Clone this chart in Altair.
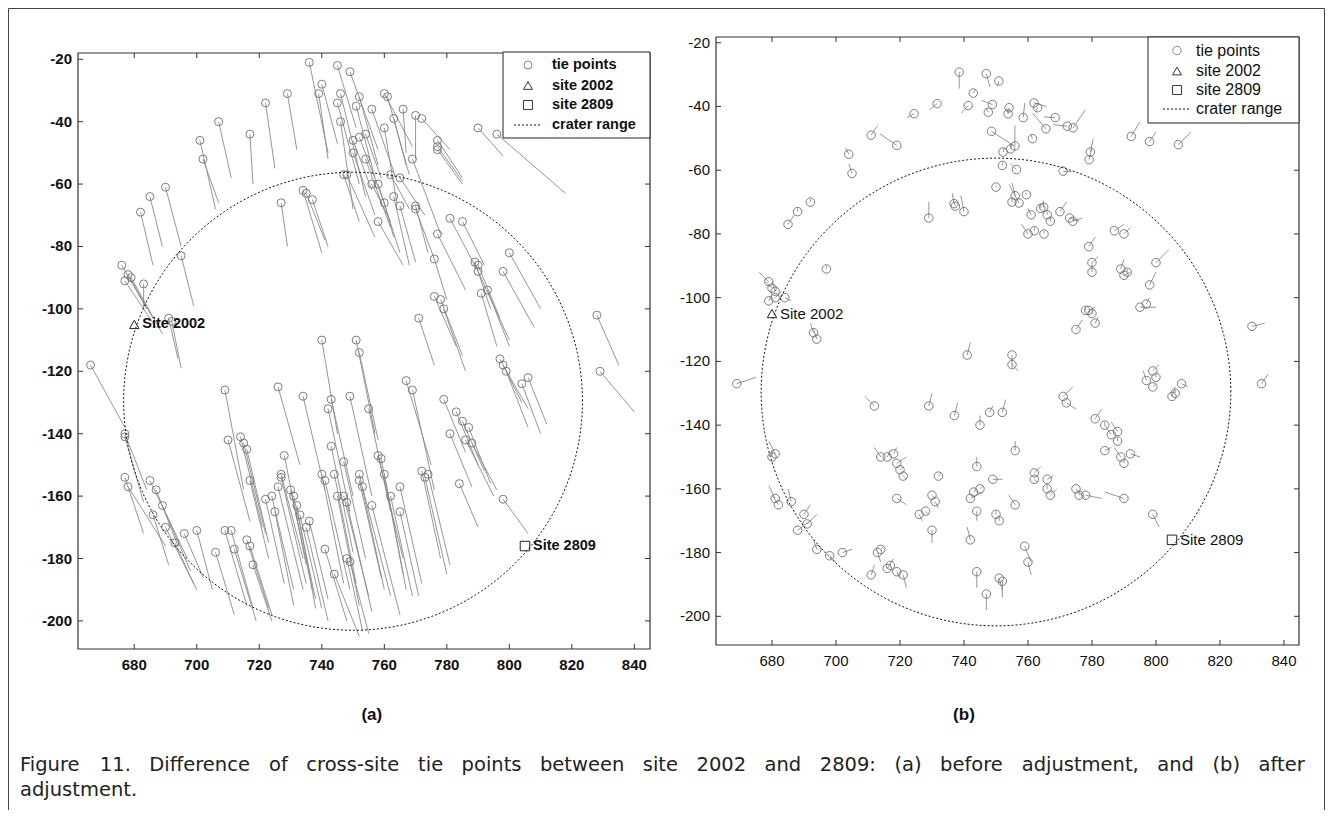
import math
import altair as alt
import pandas as pd

# ---------------- data ----------------
# panel (a): tie points (circle) and the end of their difference vectors
A_PTS = [
    (701,-46,706,-68),(702,-52,707,-66),(707,-40,711,-58),(717,-44,718,-60),(722,-34,725,-55),
    (729,-31,732,-49),(736,-21,742,-50),(740,-28,745,-47),(739,-31,742,-52),(745,-22,751,-42),
    (749,-24,758,-49),(746,-31,754,-64),(752,-32,758,-54),(745,-34,752,-60),(751,-35,757,-58),
    (746,-40,750,-68),(760,-31,769,-48),(761,-32,768,-57),(756,-36,763,-56),(766,-36,767,-50),
    (763,-39,767,-54),(760,-42,764,-66),(770,-38,770,-52),(772,-39,781,-49),(769,-52,778,-76),
    (777,-46,785,-58),(777,-48,785,-59),(777,-49,785,-60),(790,-42,798,-51),(796,-44,818,-63),
    (750,-46,756,-62),(752,-45,760,-66),(754,-44,759,-58),(750,-50,757,-70),(754,-52,762,-74),
    (748,-57,757,-77),(747,-57,752,-72),(758,-60,765,-82),(734,-62,740,-82),(735,-63,741,-78),
    (737,-65,742,-80),(727,-66,729,-80),(763,-64,768,-86),(765,-67,770,-85),(770,-67,774,-82),
    (770,-68,776,-84),(760,-66,763,-77),(756,-60,762,-72),(762,-57,768,-68),(765,-58,773,-70),
    (758,-72,766,-86),(781,-71,790,-88),(785,-72,792,-86),(777,-76,786,-94),(776,-84,780,-97),
    (789,-85,794,-100),(790,-86,797,-103),(790,-88,800,-110),(798,-88,808,-106),(800,-82,810,-100),
    (776,-96,783,-112),(778,-97,785,-115),(779,-100,786,-120),(771,-103,776,-118),(791,-95,796,-112),
    (793,-94,800,-112),(828,-102,835,-118),(829,-120,840,-133),(797,-116,804,-130),(798,-118,806,-132),
    (799,-120,806,-138),(804,-124,810,-140),(806,-122,812,-137),(779,-129,786,-146),(783,-133,790,-150),
    (785,-136,792,-152),(787,-138,794,-156),(786,-142,795,-160),(788,-143,796,-158),(781,-140,788,-157),
    (784,-156,790,-170),(798,-161,806,-172),
    (676,-86,684,-100),(678,-89,686,-103),(677,-91,687,-106),(679,-90,689,-108),(683,-92,683,-100),
    (695,-83,699,-99),(691,-103,694,-116),(692,-104,695,-119),(682,-69,686,-86),(685,-64,689,-80),
    (690,-61,695,-80),
    (666,-118,677,-138),(677,-140,684,-158),(677,-141,683,-162),(677,-154,683,-172),(678,-157,690,-176),
    (685,-155,697,-180),(687,-158,694,-176),(686,-166,691,-182),(689,-163,698,-184),(690,-170,700,-190),
    (693,-175,699,-188),(696,-172,702,-186),(700,-171,705,-190),(706,-178,712,-198),
    (709,-126,715,-158),(710,-142,717,-168),(709,-171,716,-195),(711,-171,718,-196),(712,-177,719,-200),
    (714,-141,721,-170),(715,-143,722,-172),(716,-145,723,-175),(717,-155,723,-180),(716,-174,723,-196),
    (717,-176,724,-198),(718,-182,724,-200),(722,-161,728,-188),(724,-160,731,-190),(725,-165,731,-195),
    (726,-157,734,-190),(727,-154,735,-188),(728,-147,735,-182),(726,-125,733,-150),(727,-153,734,-180),
    (730,-158,737,-190),(731,-160,738,-193),(732,-163,738,-196),(733,-166,740,-196),(734,-128,741,-158),
    (735,-170,742,-200),(736,-168,742,-193),(740,-110,745,-140),(740,-153,747,-188),(741,-155,749,-190),
    (741,-177,748,-200),(742,-132,749,-165),(743,-129,750,-160),(743,-144,750,-178),(744,-153,751,-188),
    (745,-160,752,-195),(744,-185,752,-205),(747,-149,754,-180),(747,-160,755,-192),(748,-162,756,-197),
    (748,-180,753,-203),(749,-181,755,-204),(749,-128,756,-160),(751,-110,757,-140),(752,-114,758,-142),
    (752,-153,760,-190),(752,-155,759,-186),(753,-157,762,-192),(755,-132,762,-165),(756,-163,765,-198),
    (758,-147,766,-180),(759,-148,766,-185),(760,-153,767,-190),(762,-160,769,-192),(765,-157,772,-188),
    (765,-165,771,-192),(767,-123,775,-150),(769,-126,776,-158),(772,-152,778,-180),(773,-154,780,-185),
    (774,-153,781,-182),
]
A_X = [p[0] for p in A_PTS]
A_Y = [p[1] for p in A_PTS]
A_EX = [p[2] for p in A_PTS]
A_EY = [p[3] for p in A_PTS]

# panel (b)
B_PTS = [
    (738.5,-29.2,738.5,-34.4),(747.0,-29.7,748.1,-33.9),(750.9,-32.0,750.5,-33.6),(742.9,-35.8,743.5,-34.8),
    (731.6,-39.1,729.3,-41.0),(724.4,-42.3,722.1,-43.5),(741.3,-39.7,739.2,-42.1),(748.9,-39.4,745.5,-38.1),
    (747.6,-41.8,746.8,-40.5),(754.1,-40.4,754.0,-42.0),(753.8,-42.3,753.5,-41.0),(758.5,-43.5,759.0,-38.9),
    (761.9,-38.9,765.8,-40.0),(763.0,-40.4,762.5,-41.5),(768.5,-43.5,765.0,-43.3),(765.6,-47.0,761.4,-42.1),
    (772.3,-46.2,767.9,-45.7),(774.1,-46.7,778.0,-41.0),(748.6,-47.8,755.4,-52.2),(752.2,-54.3,752.6,-53.0),
    (755.9,-52.4,755.9,-46.0),(754.6,-53.3,754.8,-52.0),(761.4,-50.1,761.0,-49.0),(779.5,-54.3,780.4,-50.1),
    (779.1,-56.7,780.0,-53.0),(792.3,-49.4,794.9,-44.9),(719.0,-52.2,713.7,-48.6),(752.0,-58.5,752.0,-57.5),
    (756.4,-59.8,754.5,-58.0),(771.0,-60.3,773.7,-60.5),(750.0,-65.3,750.3,-64.8),(757.2,-70.3,754.1,-64.5),
    (759.5,-67.7,759.2,-67.0),(736.9,-70.5,736.3,-67.2),(737.3,-71.3,737.0,-70.0),(764.9,-71.6,764.8,-69.5),
    (807,-52,811,-48),(798,-51,800,-48),(704,-55,703,-53),(705,-61,704,-58),(711,-49,713,-46),
    (685,-77,687,-74),(688,-73,688,-72),(692,-70,692,-69),(697,-91,697,-90),(729,-75,729,-70),(740,-73,739,-68),
    (679,-95,676,-92),(680,-97,678,-95),(681,-98,680,-95),(681,-100,683,-98),(679,-101,680,-99),(684,-100,686,-101),
    (693,-111,692,-108),(694,-113,693,-110),(669,-127,675,-125),(681,-149,679,-145),(680,-150,680,-148),
    (681,-163,679,-159),(682,-165,680,-162),(686,-164,685,-160),(688,-173,692,-170),(690,-168,692,-165),
    (691,-171,694,-168),(694,-179,693,-176),(698,-181,700,-183),(702,-180,705,-179),(711,-187,712,-184),
    (713,-180,714,-183),(714,-179,715,-178),(712,-134,709,-131),(714,-150,712,-147),(716,-150,717,-148),
    (718,-149,719,-147),(719,-152,722,-150),(720,-154,721,-153),(721,-156,722,-157),(719,-163,722,-165),
    (716,-185,718,-182),(717,-184,717,-183),(719,-186,720,-188),(721,-187,722,-191),(726,-168,727,-170),
    (728,-167,729,-168),(730,-162,731,-163),(731,-164,732,-166),(732,-156,733,-155),(730,-173,730,-177),
    (729,-134,730,-130),(737,-137,738,-133),(741,-118,742,-114),(742,-163,746,-161),(742,-176,741,-172),
    (744,-167,744,-170),(743,-161,744,-160),(745,-160,746,-159),(744,-153,744,-150),(745,-140,745,-137),
    (748,-136,749,-134),(744,-186,744,-191),(747,-193,747,-198),(749,-157,752,-157),(750,-168,750,-167),
    (751,-170,751,-169),(751,-188,752,-192),(752,-189,752,-194),(752,-136,753,-132),(755,-118,755,-122),
    (755,-121,757,-123),(756,-165,754,-162),(756,-148,756,-145),(759,-178,761,-183),(760,-183,761,-187),
    (762,-155,764,-153),(762,-157,763,-158),(766,-157,768,-156),(767,-162,769,-160),(766,-160,766,-159),
    (771,-131,774,-128),(772,-133,775,-135),(775,-160,778,-163),(776,-162,776,-161),(778,-162,783,-163),
    (781,-138,783,-135),(784,-140,784,-139),(786,-143,784,-140),(788,-142,786,-139),(788,-145,788,-144),
    (789,-150,787,-147),(790,-152,790,-151),(792,-149,795,-150),(784,-148,786,-147),(790,-163,784,-161),
    (799,-168,801,-172),(797,-126,796,-123),(799,-123,801,-121),(800,-125,800,-124),(799,-128,800,-127),
    (805,-131,806,-128),(806,-130,806,-129),(808,-127,810,-128),(830,-109,834,-108),(833,-127,835,-124),
    (798,-96,800,-92),(800,-89,804,-85),(795,-103,800,-103),(797,-102,798,-100),(779,-84,781,-81),
    (780,-89,782,-87),(780,-92,780,-89),(781,-108,782,-106),(779,-104,781,-103),(780,-105,780,-104),
    (787,-79,790,-77),(790,-80,792,-78),(789,-91,790,-88),(790,-93,792,-92),(791,-92,791,-91),
    (774,-76,777,-75),(773,-75,776,-76),(770,-73,772,-70),(761,-74,760,-72),(766,-74,766,-73),
    (762,-79,762,-78),(764,-72,764,-71),(767,-76,767,-75),(765,-80,765,-79),(760,-80,758,-77),
    (756,-68,755,-64),(755,-70,755,-69),(775,-110,777,-107),(778,-104,778,-103),
]
B_X = [p[0] for p in B_PTS]
B_Y = [p[1] for p in B_PTS]
B_EX = [p[2] for p in B_PTS]
B_EY = [p[3] for p in B_PTS]

SITE_LABELS = ["Site 2002", "Site 2809"]
SITE_SHAPES = ["triangle-up", "square"]
SITE_X = [680.0, 805.0]
SITE_Y = [-105.0, -176.0]

CRATER_CX, CRATER_CY, CRATER_R = 750.0, -129.6, 73.4

X_TICKS = [680, 700, 720, 740, 760, 780, 800, 820, 840]
Y_TICKS = [-20, -40, -60, -80, -100, -120, -140, -160, -180, -200]

LEGEND_LABELS = ["tie points", "site 2002", "site 2809", "crater range"]
PANEL_TITLES = ["(a)", "(b)"]
CAPTION = [
    "Figure 11. Difference of cross-site tie points between site 2002 and 2809: (a) before adjustment, and (b) after",
    "adjustment.",
]

# ---------------- layout (pixels inside the view) ----------------
W, H = 1317, 802
FONT = "Liberation Sans"
CAP_FONT = "DejaVu Sans"

GEOM = {
    "a": dict(xd=[662, 845], yd=[-209, -18], xr=[70, 642], yr=[641, 45], fw="bold",
              lab=15, xlab_y=657, ylab_x=64, title=PANEL_TITLES[0], title_at=756, title_y=707,
              leg=dict(x0=495, y0=44, w=147, h=86, sx=520, tx=544,
                       rows=[57, 77.5, 97, 117], fs=14.5, fw="bold"),
              size=64, site_fs=14.5),
    "b": dict(xd=[662.5, 844.7], yd=[-209, -18.2], xr=[708, 1291], yr=[637, 29], fw="normal",
              lab=15, xlab_y=653, ylab_x=702, title=PANEL_TITLES[1], title_at=740, title_y=707,
              leg=dict(x0=1140, y0=29, w=151, h=86, sx=1169, tx=1188,
                       rows=[42.5, 63, 82, 101], fs=16, fw="normal"),
              size=72, site_fs=15),
}

# DejaVu Sans advance widths (em) used to justify the first caption line
DV_W = {" ": .318, ".": .318, ",": .318, ":": .337, "(": .390, ")": .390, "-": .361,
        "F": .575, "D": .770, "a": .613, "b": .635, "c": .550, "d": .635, "e": .615,
        "f": .352, "g": .635, "h": .634, "i": .278, "j": .278, "k": .579, "l": .278,
        "m": .974, "n": .634, "o": .612, "p": .635, "r": .411, "s": .521, "t": .392,
        "u": .634, "v": .592, "w": .818, "x": .592, "y": .592, "z": .525}


def text_width(s, size):
    return sum(DV_W.get(ch, .636) for ch in s) * size


def panel(key, xs, ys, exs, eys):
    g = GEOM[key]
    xs_ = alt.Scale(domain=g["xd"], range=g["xr"], nice=False, zero=False)
    ys_ = alt.Scale(domain=g["yd"], range=g["yr"], nice=False, zero=False)
    fw = g["fw"]
    X = lambda f: alt.X(f, scale=xs_, axis=None)
    Y = lambda f: alt.Y(f, scale=ys_, axis=None)
    pts = pd.DataFrame({"x": xs, "y": ys, "ex": exs, "ey": eys})

    lines = alt.Chart(pts).mark_rule(stroke="#8a8a8a", strokeWidth=0.9).encode(
        x=X("x:Q"), y=Y("y:Q"), x2="ex:Q", y2="ey:Q")
    circles = alt.Chart(pts).mark_point(shape="circle", filled=False, size=g["size"],
                                        stroke="#6f6f6f", strokeWidth=0.9, opacity=1).encode(
        x=X("x:Q"), y=Y("y:Q"))

    n = 180
    crater = pd.DataFrame({
        "i": list(range(n + 1)),
        "cx": [CRATER_CX + CRATER_R * math.cos(2 * math.pi * k / n) for k in range(n + 1)],
        "cy": [CRATER_CY + CRATER_R * math.sin(2 * math.pi * k / n) for k in range(n + 1)],
    })
    crater_line = alt.Chart(crater).mark_line(stroke="#111", strokeWidth=1, strokeDash=[2, 2]).encode(
        x=X("cx:Q"), y=Y("cy:Q"), order="i:Q")

    sites = pd.DataFrame({"x": SITE_X, "y": SITE_Y, "label": SITE_LABELS, "shape": SITE_SHAPES})
    site_marks = alt.Chart(sites).mark_point(filled=False, size=90, stroke="#222", strokeWidth=1,
                                             opacity=1).encode(
        x=X("x:Q"), y=Y("y:Q"), shape=alt.Shape("shape:N", scale=None, legend=None))
    site_text = alt.Chart(sites).mark_text(align="left", baseline="middle", dx=8, font=FONT,
                                           fontSize=g["site_fs"], fontWeight=fw, color="#111").encode(
        x=X("x:Q"), y=Y("y:Q"), text="label:N")

    # inward ticks on all four sides + tick labels
    xt = pd.DataFrame({"t": X_TICKS, "s": [str(v) for v in X_TICKS]})
    yt = pd.DataFrame({"t": Y_TICKS, "s": [str(v) for v in Y_TICKS]})
    tk = dict(stroke="#333", strokeWidth=1)
    x0, x1 = g["xr"]
    yb, ytop = g["yr"]
    tb = alt.Chart(xt).mark_rule(**tk).encode(x=X("t:Q"), y=alt.value(yb), y2=alt.value(yb - 5))
    tt = alt.Chart(xt).mark_rule(**tk).encode(x=X("t:Q"), y=alt.value(ytop), y2=alt.value(ytop + 5))
    tl = alt.Chart(yt).mark_rule(**tk).encode(y=Y("t:Q"), x=alt.value(x0), x2=alt.value(x0 + 5))
    tr = alt.Chart(yt).mark_rule(**tk).encode(y=Y("t:Q"), x=alt.value(x1), x2=alt.value(x1 - 5))
    xl = alt.Chart(xt).mark_text(align="center", baseline="middle", font=FONT, fontSize=g["lab"],
                                 fontWeight=fw, color="#111").encode(
        x=X("t:Q"), y=alt.value(g["xlab_y"]), text="s:N")
    yl = alt.Chart(yt).mark_text(align="right", baseline="middle", font=FONT, fontSize=g["lab"],
                                 fontWeight=fw, color="#111").encode(
        y=Y("t:Q"), x=alt.value(g["ylab_x"]), text="s:N")

    one = pd.DataFrame({"k": [0]})
    frame = alt.Chart(one).mark_rect(fillOpacity=0, stroke="#333", strokeWidth=1.2).encode(
        x=alt.value(x0), x2=alt.value(x1), y=alt.value(ytop), y2=alt.value(yb))
    ptitle = alt.Chart(pd.DataFrame({"s": [g["title"]], "t": [g["title_at"]]})).mark_text(
        align="center", baseline="middle", font=FONT, fontSize=17, fontWeight="bold",
        color="#111").encode(x=X("t:Q"), y=alt.value(g["title_y"]), text="s:N")

    # legend box
    L = g["leg"]
    leg_box = alt.Chart(one).mark_rect(fill="white", stroke="#222", strokeWidth=1).encode(
        x=alt.value(L["x0"]), x2=alt.value(L["x0"] + L["w"]),
        y=alt.value(L["y0"]), y2=alt.value(L["y0"] + L["h"]))
    leg_items = []
    for shp, r in zip(["circle", "triangle-up", "square"], L["rows"][:3]):
        leg_items.append(alt.Chart(one).mark_point(shape=shp, filled=False,
                                                   size=g["size"] if shp == "circle" else 80,
                                                   stroke="#777" if shp == "circle" else "#222",
                                                   strokeWidth=0.9, opacity=1).encode(
            x=alt.value(L["sx"]), y=alt.value(r)))
    leg_items.append(alt.Chart(one).mark_rule(stroke="#111", strokeWidth=1, strokeDash=[2, 2]).encode(
        x=alt.value(L["sx"] - 14), x2=alt.value(L["sx"] + 12), y=alt.value(L["rows"][3])))
    leg_texts = [alt.Chart(pd.DataFrame({"label": [lab]})).mark_text(
        align="left", baseline="middle", font=FONT, fontSize=L["fs"], fontWeight=L["fw"],
        color="#111").encode(x=alt.value(L["tx"]), y=alt.value(r), text="label:N")
        for lab, r in zip(LEGEND_LABELS, L["rows"])]

    return alt.layer(frame, lines, circles, crater_line, site_marks, site_text,
                     tb, tt, tl, tr, xl, yl, ptitle, leg_box, *leg_items, *leg_texts)


pa = panel("a", A_X, A_Y, A_EX, A_EY)
pb = panel("b", B_X, B_Y, B_EX, B_EY)

# caption: first line justified between CAP_X0 and CAP_X1, last line ragged
CAP_FS, CAP_X0, CAP_X1, CAP_Y = 19.5, 12, 1297, [757, 782]
words = CAPTION[0].split(" ")
wwidth = [text_width(w, CAP_FS) for w in words]
gap = (CAP_X1 - CAP_X0 - sum(wwidth)) / (len(words) - 1)
wx, cur = [], CAP_X0
for w in wwidth:
    wx.append(cur)
    cur += w + gap
cap_rows = [(w, x, CAP_Y[0]) for w, x in zip(words, wx)] + [(CAPTION[1], CAP_X0, CAP_Y[1])]
cap_layers = [alt.Chart(pd.DataFrame({"w": [w]})).mark_text(
    align="left", baseline="middle", font=CAP_FONT, fontSize=CAP_FS, color="#222").encode(
    x=alt.value(x), y=alt.value(y), text="w:N") for w, x, y in cap_rows]

# outer figure border (top, left, right)
one = pd.DataFrame({"k": [0]})
bstyle = dict(stroke="#444", strokeWidth=1)
border = [
    alt.Chart(one).mark_rule(**bstyle).encode(x=alt.value(0.5), x2=alt.value(W - 0.5), y=alt.value(0.5)),
    alt.Chart(one).mark_rule(**bstyle).encode(x=alt.value(0.5), y=alt.value(0.5), y2=alt.value(H)),
    alt.Chart(one).mark_rule(**bstyle).encode(x=alt.value(W - 0.5), y=alt.value(0.5), y2=alt.value(H)),
]

chart = alt.layer(pa, pb, *cap_layers, *border).resolve_scale(x="independent", y="independent").properties(
    width=W, height=H, padding=0, autosize=alt.AutoSizeParams(type="none"),
    background="white",
).configure_view(stroke=None)

chart.save("out.html", embed_options={"renderer": "svg", "actions": False})
